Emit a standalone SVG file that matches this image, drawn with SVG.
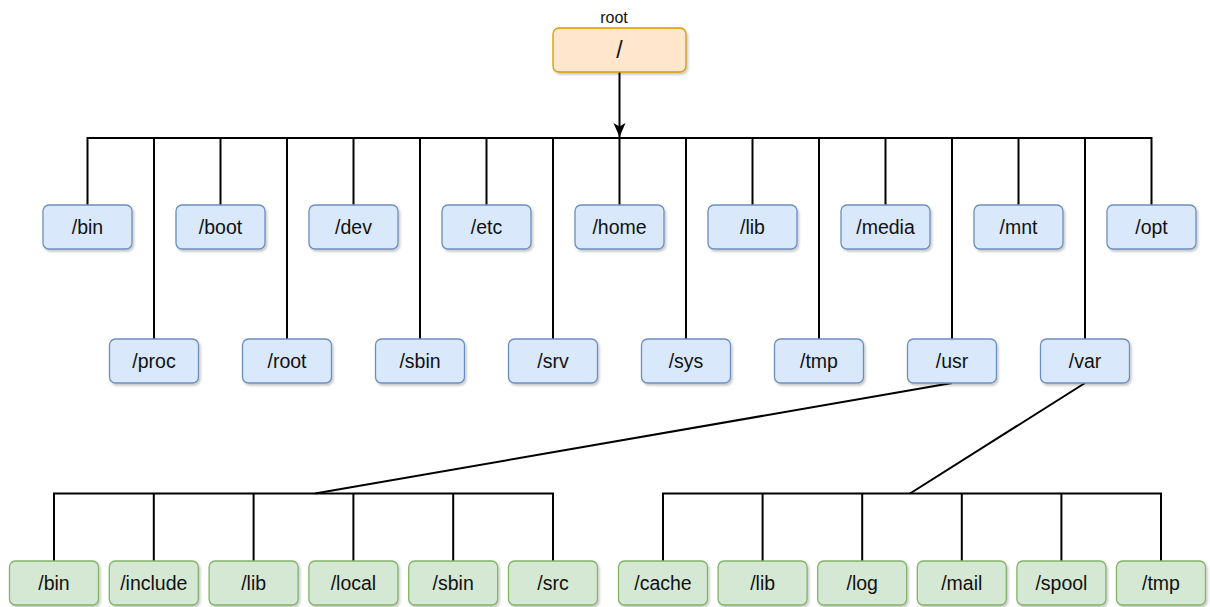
<svg xmlns="http://www.w3.org/2000/svg" width="1210" height="607" viewBox="0 0 1210 607">
<style>
.n rect{stroke-width:1.3;filter:url(#sh)}
.b rect{fill:#dae8fc;stroke:#6c8ebf}
.g rect{fill:#d5e8d4;stroke:#82b366}
.o rect{fill:#ffe6cc;stroke:#d79b00}
text{font-family:"Liberation Sans",Arial,sans-serif;font-size:19.5px;fill:#111;text-anchor:middle;dominant-baseline:central}
.c path{fill:none;stroke:#000;stroke-width:2;stroke-linejoin:miter}
</style>
<defs>
<filter id="sh" x="-10%" y="-10%" width="130%" height="140%">
<feDropShadow dx="1.5" dy="2" stdDeviation="1.2" flood-color="#000" flood-opacity="0.22"/>
</filter>
<marker id="arw" viewBox="0 0 14 14" refX="14" refY="7" markerWidth="14" markerHeight="14" orient="auto" markerUnits="userSpaceOnUse">
<path d="M0,1 L14,7 L0,13 L3.5,7 Z" fill="#000"/>
</marker>
</defs>
<g class="c" id="connectors">
<path d="M619.5,72 V137" marker-end="url(#arw)"/>
<path d="M87.5,205 V138 H1151.5 V205"/>
<path d="M154,339 V138"/>
<path d="M220.5,205 V138"/>
<path d="M287,339 V138"/>
<path d="M353.5,205 V138"/>
<path d="M420,339 V138"/>
<path d="M486.5,205 V138"/>
<path d="M553,339 V138"/>
<path d="M619.5,205 V138"/>
<path d="M686,339 V138"/>
<path d="M752.5,205 V138"/>
<path d="M819,339 V138"/>
<path d="M885.5,205 V138"/>
<path d="M952,339 V138"/>
<path d="M1018.5,205 V138"/>
<path d="M1085,339 V138"/>
<path d="M952,383 L315,493.5"/>
<path d="M54,561 V493.5 H553 V561"/>
<path d="M153.8,561 V493.5"/>
<path d="M253.6,561 V493.5"/>
<path d="M353.4,561 V493.5"/>
<path d="M453.2,561 V493.5"/>
<path d="M1085,383 L910,493.5"/>
<path d="M663,561 V493.5 H1161 V561"/>
<path d="M762.6,561 V493.5"/>
<path d="M862.2,561 V493.5"/>
<path d="M961.8,561 V493.5"/>
<path d="M1061.4,561 V493.5"/>
</g>
<g id="root" class="n o"><rect x="553" y="28" width="133" height="44" rx="6"/><text x="619.5" y="50" style="font-size:23px">/</text></g>
<text x="614" y="17" style="font-size:16px">root</text>
<g id="bin" class="n b"><rect x="43" y="205" width="89" height="44" rx="6"/><text x="87.5" y="227">/bin</text></g>
<g id="proc" class="n b"><rect x="109.5" y="339" width="89" height="44" rx="6"/><text x="154" y="361">/proc</text></g>
<g id="boot" class="n b"><rect x="176" y="205" width="89" height="44" rx="6"/><text x="220.5" y="227">/boot</text></g>
<g id="rootdir" class="n b"><rect x="242.5" y="339" width="89" height="44" rx="6"/><text x="287" y="361">/root</text></g>
<g id="dev" class="n b"><rect x="309" y="205" width="89" height="44" rx="6"/><text x="353.5" y="227">/dev</text></g>
<g id="sbin" class="n b"><rect x="375.5" y="339" width="89" height="44" rx="6"/><text x="420" y="361">/sbin</text></g>
<g id="etc" class="n b"><rect x="442" y="205" width="89" height="44" rx="6"/><text x="486.5" y="227">/etc</text></g>
<g id="srv" class="n b"><rect x="508.5" y="339" width="89" height="44" rx="6"/><text x="553" y="361">/srv</text></g>
<g id="home" class="n b"><rect x="575" y="205" width="89" height="44" rx="6"/><text x="619.5" y="227">/home</text></g>
<g id="sys" class="n b"><rect x="641.5" y="339" width="89" height="44" rx="6"/><text x="686" y="361">/sys</text></g>
<g id="lib" class="n b"><rect x="708" y="205" width="89" height="44" rx="6"/><text x="752.5" y="227">/lib</text></g>
<g id="tmp" class="n b"><rect x="774.5" y="339" width="89" height="44" rx="6"/><text x="819" y="361">/tmp</text></g>
<g id="media" class="n b"><rect x="841" y="205" width="89" height="44" rx="6"/><text x="885.5" y="227">/media</text></g>
<g id="usr" class="n b"><rect x="907.5" y="339" width="89" height="44" rx="6"/><text x="952" y="361">/usr</text></g>
<g id="mnt" class="n b"><rect x="974" y="205" width="89" height="44" rx="6"/><text x="1018.5" y="227">/mnt</text></g>
<g id="var" class="n b"><rect x="1040.5" y="339" width="89" height="44" rx="6"/><text x="1085" y="361">/var</text></g>
<g id="opt" class="n b"><rect x="1107" y="205" width="89" height="44" rx="6"/><text x="1151.5" y="227">/opt</text></g>
<g id="usr-bin" class="n g"><rect x="9.5" y="561" width="89" height="44" rx="6"/><text x="54" y="583">/bin</text></g>
<g id="usr-include" class="n g"><rect x="109.3" y="561" width="89" height="44" rx="6"/><text x="153.8" y="583">/include</text></g>
<g id="usr-lib" class="n g"><rect x="209.1" y="561" width="89" height="44" rx="6"/><text x="253.6" y="583">/lib</text></g>
<g id="usr-local" class="n g"><rect x="308.9" y="561" width="89" height="44" rx="6"/><text x="353.4" y="583">/local</text></g>
<g id="usr-sbin" class="n g"><rect x="408.7" y="561" width="89" height="44" rx="6"/><text x="453.2" y="583">/sbin</text></g>
<g id="usr-src" class="n g"><rect x="508.5" y="561" width="89" height="44" rx="6"/><text x="553" y="583">/src</text></g>
<g id="var-cache" class="n g"><rect x="618.5" y="561" width="89" height="44" rx="6"/><text x="663" y="583">/cache</text></g>
<g id="var-lib" class="n g"><rect x="718.1" y="561" width="89" height="44" rx="6"/><text x="762.6" y="583">/lib</text></g>
<g id="var-log" class="n g"><rect x="817.7" y="561" width="89" height="44" rx="6"/><text x="862.2" y="583">/log</text></g>
<g id="var-mail" class="n g"><rect x="917.3" y="561" width="89" height="44" rx="6"/><text x="961.8" y="583">/mail</text></g>
<g id="var-spool" class="n g"><rect x="1016.9" y="561" width="89" height="44" rx="6"/><text x="1061.4" y="583">/spool</text></g>
<g id="var-tmp" class="n g"><rect x="1116.5" y="561" width="89" height="44" rx="6"/><text x="1161" y="583">/tmp</text></g>
</svg>
